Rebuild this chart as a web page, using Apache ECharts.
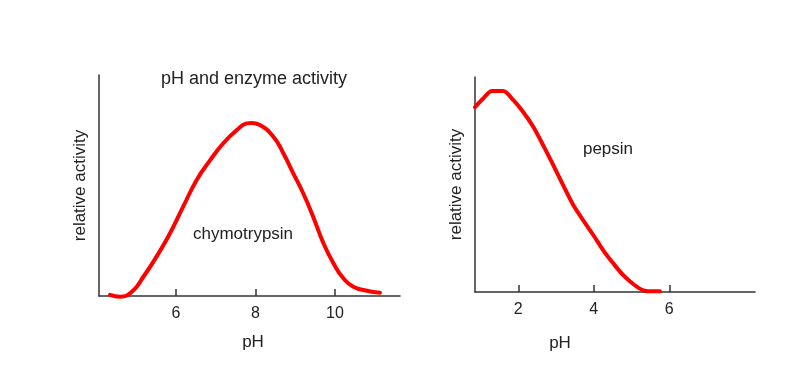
<!DOCTYPE html>
<html>
<head>
<meta charset="utf-8">
<script src="https://cdn.jsdelivr.net/npm/echarts@6/dist/echarts.min.js"></script>
<style>
  html, body { margin: 0; padding: 0; background: #fff; }
  #chart { width: 812px; height: 375px; }
</style>
</head>
<body>
<div id="chart"></div>
<script>
// chymotrypsin curve: [pH, relative activity]
const chymoPH = [4.34, 4.59, 4.89, 5.18, 5.51, 5.85, 6.18, 6.52, 6.86, 7.19, 7.53, 7.78, 7.9, 8.11, 8.45, 8.7, 8.95, 9.2, 9.45, 9.71, 9.96, 10.21, 10.46, 10.8, 11.13];
const chymoAct = [0.5, -0.3, 1.9, 8.7, 17.8, 28.4, 40.4, 52.5, 61.5, 69.1, 75.1, 78.1, 78.3, 77.4, 72.1, 64.6, 55.5, 46.5, 35.9, 23.8, 14.8, 8.0, 4.2, 2.4, 1.5];

// pepsin curve
const pepsinPH = [0.853, 1.07, 1.3, 1.6, 1.87, 2.13, 2.4, 2.66, 2.93, 3.19, 3.46, 3.72, 3.99, 4.25, 4.52, 4.78, 5.05, 5.31, 5.53, 5.75];
const pepsinAct = [86.0, 90.0, 93.5, 93.5, 89.2, 83.7, 76.7, 68.2, 58.9, 49.6, 40.3, 33.3, 26.4, 19.4, 13.2, 7.8, 3.6, 0.8, 0.3, 0.3];

const leftTicks = [6, 8, 10];
const rightTicks = [2, 4, 6];

const font = '"Liberation Sans", Arial, sans-serif';
const ink = '#222';
const axisColor = '#333';

function zip(xs, ys) {
  return xs.map((x, i) => [x, ys[i]]);
}

function xAxisFor(gridIndex, min, max, ticks) {
  return {
    gridIndex, type: 'value', min, max,
    axisLine: { onZero: false, lineStyle: { color: axisColor, width: 1.5 } },
    axisTick: { show: true, inside: true, length: 7, customValues: ticks, lineStyle: { color: axisColor, width: 1.5 } },
    axisLabel: { customValues: ticks, color: ink, fontSize: 16, fontFamily: font, margin: 10 },
    splitLine: { show: false }
  };
}

function yAxisFor(gridIndex, max) {
  return {
    gridIndex, type: 'value', min: 0, max,
    name: 'relative activity', nameLocation: 'middle', nameRotate: 90, nameGap: 10,
    nameTextStyle: { color: ink, fontSize: 17, fontFamily: font },
    axisLine: { show: true, lineStyle: { color: axisColor, width: 1.5 } },
    axisTick: { show: false },
    axisLabel: { show: false },
    splitLine: { show: false }
  };
}

function label(text, x, y, size) {
  return {
    text, left: x, top: y, textAlign: 'center', padding: 0,
    textStyle: { color: ink, fontSize: size, fontWeight: 'normal', fontFamily: font }
  };
}

const chart = echarts.init(document.getElementById('chart'), null, { renderer: 'canvas' });

chart.setOption({
  backgroundColor: '#fff',
  animation: false,
  title: [
    label('pH and enzyme activity', 254, 70, 18),
    label('chymotrypsin', 243, 226, 17),
    label('pepsin', 608, 141, 17),
    label('pH', 253, 334, 17),
    label('pH', 560, 335, 17)
  ],
  grid: [
    { left: 99, top: 75, width: 301, height: 221 },
    { left: 475, top: 77, width: 280, height: 215 }
  ],
  xAxis: [
    xAxisFor(0, 4.063, 11.635, leftTicks),
    xAxisFor(1, 0.853, 8.27, rightTicks)
  ],
  yAxis: [
    yAxisFor(0, 100),
    yAxisFor(1, 100)
  ],
  series: [
    {
      name: 'chymotrypsin', type: 'line', xAxisIndex: 0, yAxisIndex: 0,
      data: zip(chymoPH, chymoAct), smooth: 0.5, symbol: 'none', clip: false,
      lineStyle: { color: '#ff0000', width: 4, join: 'round', cap: 'round' }
    },
    {
      name: 'pepsin', type: 'line', xAxisIndex: 1, yAxisIndex: 1,
      data: zip(pepsinPH, pepsinAct), smooth: 0.3, symbol: 'none', clip: false,
      lineStyle: { color: '#ff0000', width: 4, join: 'round', cap: 'round' }
    }
  ]
});
</script>
</body>
</html>
